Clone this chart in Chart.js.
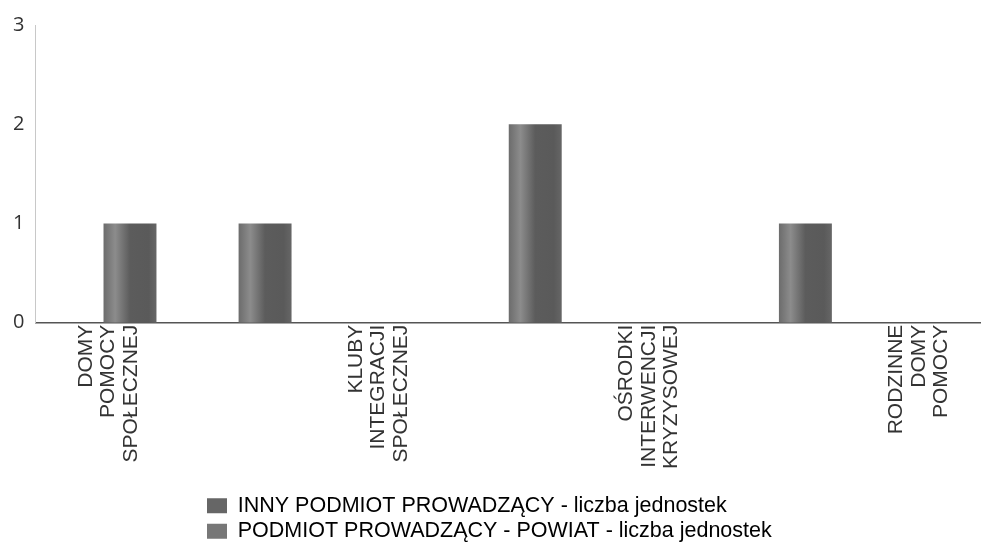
<!DOCTYPE html>
<html>
<head>
<meta charset="utf-8">
<script src="https://cdn.jsdelivr.net/npm/chart.js@4"></script>
<style>
  html, body { margin: 0; padding: 0; background: #ffffff; }
  #wrap { width: 981px; height: 543px; }
</style>
</head>
<body>
<div id="wrap"><canvas id="c"></canvas></div>
<script>
// Categories (labels of the skipped categories are not legible in the reference)
const categories = [
  ["DOMY", "POMOCY", "SPOŁECZNEJ"],
  "",
  ["KLUBY", "INTEGRACJI", "SPOŁECZNEJ"],
  "",
  ["OŚRODKI", "INTERWENCJI", "KRYZYSOWEJ"],
  "",
  ["RODZINNE", "DOMY", "POMOCY"]
];
const seriesNames = [
  "INNY PODMIOT PROWADZĄCY - liczba jednostek",
  "PODMIOT PROWADZĄCY - POWIAT - liczba jednostek"
];
const innyValues   = [0, 0, 0, 0, 0, 0, 0];
const powiatValues = [1, 1, 0, 2, 0, 1, 0];
const yTicks = [0, 1, 2, 3];

const CAT_PCT = 0.8, BAR_PCT = 0.98;

function barFill(ctx) {
  const chart = ctx.chart;
  const xs = chart.scales && chart.scales.x;
  if (!xs || ctx.type !== 'data') return '#6b6b6b';
  const n = chart.data.labels.length;
  const slot = xs.width / n;
  const nSeries = chart.data.datasets.length;
  const groupW = slot * CAT_PCT;
  const w = groupW / nSeries;
  const center = xs.getPixelForValue(ctx.dataIndex) - groupW / 2 + w * (ctx.datasetIndex + 0.5);
  const x0 = center - w * BAR_PCT / 2, x1 = center + w * BAR_PCT / 2;
  const g = chart.ctx.createLinearGradient(x0, 0, x1, 0);
  g.addColorStop(0, '#6c6c6c');
  g.addColorStop(0.22, '#8c8c8c');
  g.addColorStop(0.5, '#5c5c5c');
  g.addColorStop(0.85, '#5a5a5a');
  g.addColorStop(1, '#666666');
  return g;
}

const legendAlign = {
  id: 'legendAlign',
  beforeDraw(chart) {
    const lg = chart.legend;
    if (lg && lg.lineWidths) {
      const target = 207;
      const w = lg.right + lg.left + lg.options.labels.padding - 2 * target;
      lg.lineWidths = lg.lineWidths.map(() => w);
    }
  }
};

new Chart(document.getElementById('c'), {
  type: 'bar',
  data: {
    labels: categories,
    datasets: [
      { label: seriesNames[0], data: innyValues, backgroundColor: barFill, borderWidth: 0,
        categoryPercentage: CAT_PCT, barPercentage: BAR_PCT },
      { label: seriesNames[1], data: powiatValues, backgroundColor: barFill, borderWidth: 0,
        categoryPercentage: CAT_PCT, barPercentage: BAR_PCT }
    ]
  },
  options: {
    responsive: true,
    maintainAspectRatio: false,
    animation: false,
    layout: { padding: { top: 25, left: 10, right: 0, bottom: -9 } },
    plugins: {
      tooltip: { enabled: false },
      legend: {
        position: 'bottom',
        labels: {
          boxWidth: 20,
          boxHeight: 15,
          padding: 4,
          color: '#222222',
          font: { family: '"Liberation Sans", Arial, sans-serif', size: 21.5 },
          generateLabels(chart) {
            return chart.data.datasets.map((d, i) => ({
              text: d.label, fillStyle: i === 0 ? '#666666' : '#777777',
              strokeStyle: 'rgba(0,0,0,0)', lineWidth: 0, datasetIndex: i, hidden: false
            }));
          }
        }
      }
    },
    scales: {
      x: {
        grid: { display: false },
        border: { display: true, color: '#555555', width: 1.5 },
        afterFit(scale) { scale.height += 28; },
        ticks: {
          autoSkip: false,
          maxRotation: 90, minRotation: 90,
          padding: -6,
          labelOffset: -17,
          color: '#333333',
          font: { family: '"Liberation Sans", Arial, sans-serif', size: 21, lineHeight: 1.07 }
        }
      },
      y: {
        min: 0, max: 3,
        afterBuildTicks(scale) { scale.ticks = yTicks.map(v => ({ value: v })); },
        grid: { display: false },
        border: { display: true, color: '#c8c8c8', width: 1 },
        ticks: {
          padding: 3,
          color: '#333333',
          font: { family: '"Open Sans", sans-serif', size: 20 }
        }
      }
    }
  },
  plugins: [legendAlign]
});
</script>
</body>
</html>
